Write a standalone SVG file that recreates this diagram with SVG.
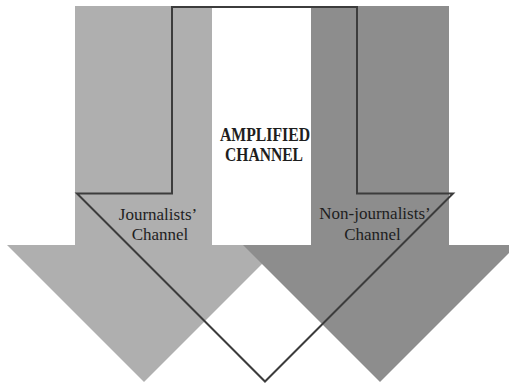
<svg xmlns="http://www.w3.org/2000/svg" width="509" height="384" viewBox="0 0 509 384">
  <style>
    .lbl { font-family: "Liberation Serif", "Times New Roman", serif; fill: #1e1e1e; text-anchor: middle; }
    .reg { font-size: 17px; }
    .bold { font-size: 18px; font-weight: bold; }
    .outline { fill: none; stroke: #3c3c3c; stroke-width: 2; stroke-linejoin: miter; }
  </style>
  <rect width="509" height="384" fill="#ffffff"/>
  <g id="journalists-channel">
    <polygon points="75,6 212,6 212,245 281,245 144,382 7,245 75,245" fill="#afafaf"/>
  </g>
  <g id="non-journalists-channel">
    <polygon points="311,6 449,6 449,245 517,245 380,382 243,245 311,245" fill="#8d8d8d"/>
  </g>
  <g id="amplified-channel">
    <polygon class="outline" points="172,7 357,7 357,193.5 453,193.5 265,381.5 77,193.5 172,193.5"/>
  </g>
  <g id="connectors"></g>
  <g id="labels">
    <text class="lbl bold" x="265" y="140.5" textLength="90" lengthAdjust="spacingAndGlyphs">AMPLIFIED</text>
    <text class="lbl bold" x="264" y="160.5" textLength="78" lengthAdjust="spacingAndGlyphs">CHANNEL</text>
    <text class="lbl reg" x="158" y="219.5">Journalists’</text>
    <text class="lbl reg" x="160" y="239.5">Channel</text>
    <text class="lbl reg" x="375" y="218.5">Non-journalists’</text>
    <text class="lbl reg" x="372.5" y="239.5">Channel</text>
  </g>
</svg>
